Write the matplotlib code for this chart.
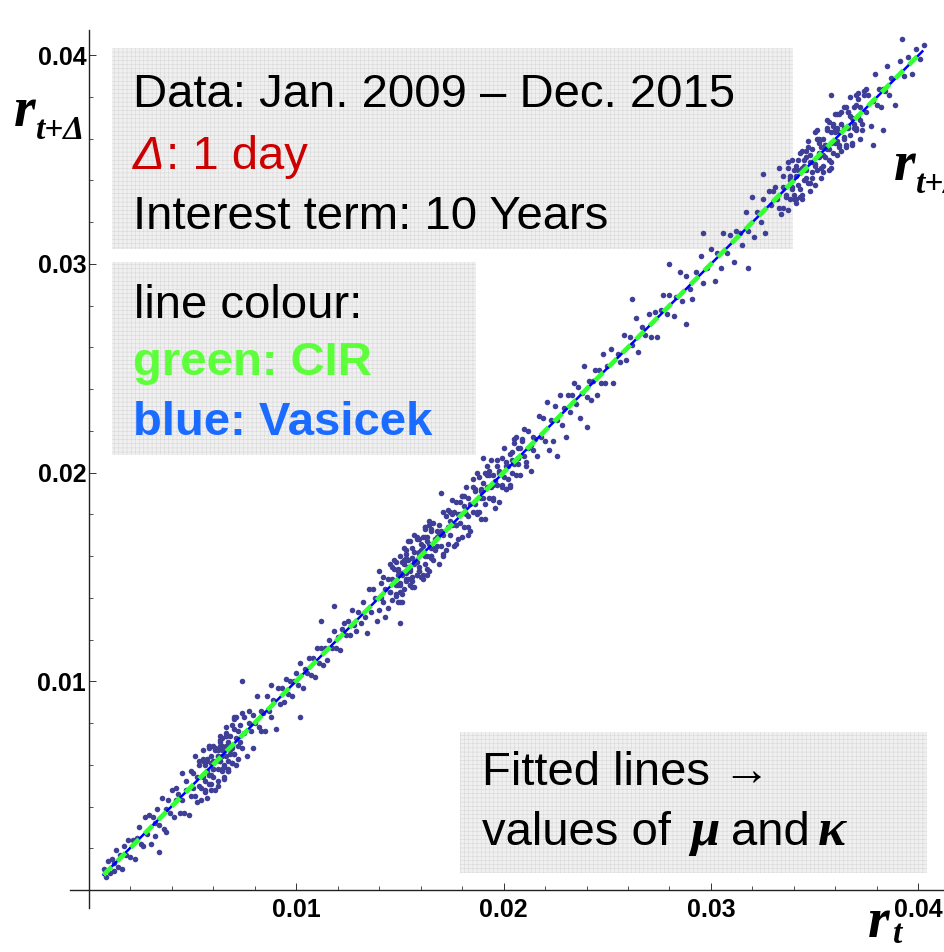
import matplotlib
matplotlib.use("Agg")
import matplotlib.pyplot as plt
import numpy as np
from matplotlib.patches import Rectangle
from matplotlib.ticker import FixedLocator

# scatter points, in basis points:
# r_t (horizontal position) and the jump r_{t+1} - r_t (vertical distance from the diagonal)
rt_bp = [
    7, 8, 9, 10, 11, 12, 12, 13, 14, 15, 16, 17, 18, 19, 20, 21, 22, 23, 24, 25,
    26, 27, 28, 29, 30, 31, 32, 32, 33, 34, 35, 36, 37, 37, 38, 39, 40, 41, 42, 42,
    43, 44, 45, 45, 46, 47, 47, 48, 49, 49, 50, 50, 51, 51, 52, 52, 53, 53, 53, 54,
    54, 55, 55, 55, 56, 56, 57, 57, 57, 58, 58, 58, 59, 59, 59, 60, 60, 60, 61, 61,
    61, 62, 62, 62, 63, 63, 63, 64, 64, 64, 65, 65, 65, 66, 66, 66, 67, 67, 67, 68,
    68, 68, 69, 69, 69, 70, 70, 70, 71, 71, 72, 72, 73, 73, 74, 74, 75, 75, 76, 77,
    77, 78, 79, 79, 80, 81, 82, 83, 83, 84, 85, 86, 87, 88, 88, 89, 90, 91, 92, 93,
    94, 95, 96, 97, 98, 99, 100, 101, 102, 103, 104, 105, 106, 107, 108, 109, 110, 111, 112, 113,
    114, 115, 116, 117, 118, 119, 120, 121, 122, 123, 124, 125, 126, 127, 128, 129, 130, 131, 132, 133,
    134, 135, 136, 137, 138, 139, 140, 140, 141, 141, 142, 142, 143, 143, 144, 144, 145, 145, 146, 146,
    147, 147, 148, 148, 148, 149, 149, 149, 150, 150, 150, 151, 151, 151, 152, 152, 152, 153, 153, 153,
    154, 154, 154, 155, 155, 155, 156, 156, 156, 157, 157, 157, 158, 158, 158, 159, 159, 159, 160, 160,
    160, 161, 161, 161, 162, 162, 162, 163, 163, 163, 164, 164, 164, 165, 165, 165, 166, 166, 167, 167,
    168, 168, 169, 169, 170, 170, 171, 171, 172, 172, 173, 173, 174, 174, 175, 175, 176, 176, 177, 177,
    178, 178, 179, 179, 180, 180, 181, 181, 182, 182, 183, 183, 184, 184, 185, 185, 186, 186, 187, 187,
    188, 188, 189, 189, 190, 190, 191, 191, 192, 192, 193, 193, 194, 194, 195, 195, 196, 196, 197, 197,
    198, 198, 199, 199, 200, 200, 201, 201, 202, 202, 203, 203, 204, 204, 205, 205, 206, 206, 207, 207,
    208, 208, 209, 210, 210, 211, 212, 212, 213, 214, 214, 215, 216, 217, 218, 219, 220, 221, 222, 223,
    224, 225, 226, 227, 228, 229, 230, 231, 232, 233, 234, 235, 236, 237, 238, 239, 240, 241, 242, 243,
    244, 245, 246, 247, 248, 249, 250, 252, 253, 255, 256, 258, 259, 261, 262, 264, 265, 267, 268, 270,
    271, 273, 274, 276, 277, 279, 280, 282, 283, 285, 286, 288, 290, 291, 293, 295, 296, 298, 300, 302,
    303, 305, 306, 308, 309, 311, 312, 314, 315, 317, 318, 320, 321, 322, 324, 325, 326, 328, 329, 330,
    331, 332, 333, 333, 334, 335, 335, 336, 337, 337, 338, 338, 339, 339, 340, 340, 341, 341, 342, 342,
    343, 343, 344, 344, 345, 345, 346, 346, 347, 347, 348, 348, 349, 349, 350, 350, 351, 351, 352, 352,
    353, 353, 354, 354, 355, 355, 356, 356, 357, 357, 358, 358, 359, 359, 360, 360, 361, 361, 362, 362,
    363, 363, 364, 364, 365, 365, 366, 366, 367, 367, 368, 368, 369, 369, 370, 370, 371, 371, 372, 372,
    373, 374, 375, 375, 376, 377, 378, 379, 380, 381, 382, 383, 384, 385, 386, 387, 389, 391, 393, 395,
    397, 399, 401, 403,
    55, 56, 58, 59, 60, 61, 62, 63, 64, 65, 66, 67, 68, 69, 70, 71, 72, 63, 65, 67,
    145, 146, 148, 149, 150, 151, 152, 153, 154, 155, 156, 157, 158, 159, 160, 161, 162, 163, 164, 165,
    175, 177, 179, 181, 183, 185, 187, 189, 191, 193, 195, 197, 199, 201, 203, 205, 207, 209, 211, 213,
    340, 342, 344, 346, 348, 350, 352, 354, 356, 358, 360, 362, 364, 366, 368, 370, 372, 374, 336, 338,
    74, 34, 102, 118, 150, 170, 190, 226, 262, 288, 296, 318, 325, 358, 378, 383, 392, 112, 240, 280,
    335, 337, 339, 341, 343, 345, 347, 349, 351, 353, 355, 357, 359, 361, 363, 365, 367, 369, 371, 373,
    346, 348, 350, 352, 354, 356, 358, 360, 362, 364, 344, 352, 357, 361, 349, 355, 366, 341, 338, 370,
    150, 153, 156, 159, 162, 165, 168, 171, 174, 177, 180, 183, 186, 189, 192, 195, 198, 201, 204, 207,
    147, 149, 151, 153, 155, 157, 159, 161, 163, 165, 167, 169, 171, 173, 158, 162, 166, 152, 156, 160,
    56, 57, 58, 60, 61, 62, 64, 65, 66, 68, 69, 70, 59, 63, 67, 62, 64, 66, 60, 58,
]
jump_bp = [
    3, -2, 5, -2, 4, -3, 1, 6, -3, 2, -6, 4, -1, 5, -4, 3, -7, 2, 6, -3,
    -5, 8, -1, 7, -8, 4, -6, 0, 6, -3, 9, -7, 2, -9, 5, -2, 8, -6, 1, 7,
    3, -7, 11, -2, -9, 5, 1, -12, 8, -4, 6, -1, 13, -6, -10, 2, 7, -3, 9, -11,
    -5, 8, -1, 12, -8, 4, -13, 0, 6, -3, 10, -7, 2, -11, 5, -2, 9, -6, 1, 7,
    6, -10, 2, -4, 9, -1, 11, -7, 0, 5, -12, 3, -6, 8, -2, 12, -9, 4, -5, 1,
    -3, 1, -8, 10, -1, 7, -5, 13, -11, 2, 4, -9, 6, -2, 11, -6, 0, 8, -12, 3,
    9, -2, 5, -11, 0, 12, -4, 3, -7, 1, -9, 7, -1, 10, -5, 2, -13, 6, -3, 4,
    -4, 6, -2, 3, -5, 1, 4, -3, 7, -6, 2, -1, 5, -4, 3, -7, 6, -2, 4, -5,
    2, -5, 4, -1, 6, -3, 1, -6, 3, 5, -2, 4, -4, 7, -1, -5, 3, -3, 6, -2,
    -11, 9, -3, 7, 2, -10, -6, 13, -1, 6, -4, 8, -12, 1, 5, -9, -2, 11, -7, 3,
    7, 1, -6, 9, -2, 5, -11, 2, -7, 10, -3, 6, 0, -13, 4, -8, 12, -1, 8, -5,
    1, -5, 4, -9, 12, -2, 8, -6, 3, -12, 5, 0, -7, 11, -1, 9, -4, 2, -10, 6,
    3, -12, 8, 0, -6, 11, -2, 6, -9, 4, 2, -11, 13, -5, 7, -1, 10, -8, 1, -3,
    4, -3, 6, -13, 2, -5, 10, -1, 7, -9, 1, -7, 3, -4, 12, 0, -11, 5, -2, 9,
    -10, 2, 7, -3, 9, -11, 3, -7, 11, -2, -9, 5, 1, -12, 8, -4, 6, -1, 13, -6,
    10, -7, 2, -11, 5, -2, 9, -6, 1, 7, -5, 8, -1, 12, -8, 4, -13, 0, 6, -3,
    -12, 3, -6, 8, -2, 12, -9, 4, -5, 1, 6, -10, 2, -4, 9, -1, 11, -7, 0, 5,
    4, -9, 6, -2, 11, -6, 0, 8, -12, 3, -3, 1, -8, 10, -1, 7, -5, 13, -11, 2,
    -9, 7, -1, 10, -5, 2, -13, 6, -3, 4, 9, -2, 5, -11, 0, 12, -4, 3, -7, 1,
    5, -8, 3, -4, 9, -6, 1, 7, -10, 2, -3, 8, -5, 4, -1, 10, -7, 3, -2, 6,
    -6, 4, -9, 2, 8, -3, 5, -7, 1, 11, -4, 6, -2, -8, 3, 9, -5, 0, 7, -10,
    2, -7, 9, -3, 5, -10, 4, 1, -6, 8, -2, 12, -8, 3, -4, 6, -11, 7, -1, 5,
    6, -1, 13, -6, -10, 2, 7, -3, 9, -11, 3, -7, 11, -2, -9, 5, 1, -12, 8, -4,
    10, -7, 2, -11, 5, -5, 8, -1, 12, -8, 4, -13, 0, 6, -3, -2, 9, -6, 1, 7,
    -12, 3, 6, -10, 2, -4, 9, -1, 11, -7, 0, 5, -6, 8, -2, 12, -9, 4, -5, 1,
    4, -9, -3, 1, -8, 10, -1, 7, -5, 13, -11, 2, 6, -2, 11, -6, 0, 8, -12, 3,
    -9, 7, 9, -2, 5, -11, 0, 12, -4, 3, -7, 1, -1, 10, -5, 2, -13, 6, -3, 4,
    -6, 4, -3, 2,
    7, -4, 11, -8, 2, -13, 5, -1, 9, -6, 3, -10, 6, 0, -5, 12, -3, 8, -11, 1,
    -2, 9, -7, 4, -12, 1, 6, -4, 13, -9, 3, -1, 10, -6, 2, -10, 7, -3, 11, -5,
    5, -11, 1, 8, -4, 12, -7, 3, -13, 6, -1, 9, -5, 2, -9, 11, -3, 7, -8, 0,
    -7, 3, 10, -5, 1, -12, 8, -2, 13, -9, 4, -6, 11, 0, -10, 6, -3, 9, -4, 2,
    26, -16, -19, 18, -22, 20, 17, -18, 21, -17, 19, -20, 18, 23, -21, -19, 16, 17, -18, 20,
    -8, 12, -3, 6, -11, 2, 9, -5, 13, -7, 1, -12, 7, -2, 10, -9, 4, -4, 11, -6,
    5, -9, 13, -1, -7, 8, -12, 3, 10, -4, -13, 6, -2, 11, -8, 2, 7, -10, 4, -5,
    -4, 10, -8, 3, 12, -6, 1, -11, 7, -2, 9, -13, 5, -1, 11, -7, 2, -9, 6, 0,
    11, -3, -9, 6, -1, 13, -6, 4, -12, 8, -4, 2, -10, 9, -7, 12, -2, 5, -11, 1,
    -9, 5, 11, -2, 7, -12, 3, -5, 9, -1, -8, 12, -4, 6, -10, 2, -6, 8, 1, -3,
]

# fitted lines r_{t+1} = a + b r_t
cir_a, cir_b = 0.00002, 0.9992
vas_a, vas_b = 0.00003, 0.9988
fit_range = [0.0007, 0.0402]

major_ticks = [0.01, 0.02, 0.03, 0.04]
tick_labels = ["0.01", "0.02", "0.03", "0.04"]
minor_ticks = [0.002, 0.004, 0.006, 0.008, 0.012, 0.014, 0.016, 0.018, 0.022, 0.024,
               0.026, 0.028, 0.032, 0.034, 0.036, 0.038]

n = min(len(rt_bp), len(jump_bp))
r_t = np.array(rt_bp[:n]) / 10000.0
r_next = r_t + np.array(jump_bp[:n]) / 10000.0

W, H = 945, 952
fig = plt.figure(figsize=(W / 100, H / 100), dpi=100)
ax = fig.add_axes([0, 0, 1, 1])
ax.patch.set_alpha(0)

x0px, xscale = 89, 20730.0
y0px, yscale = 890, 20870.0
ax.set_xlim(-x0px / xscale, (W - x0px) / xscale)
ax.set_ylim(-(H - y0px) / yscale, y0px / yscale)

# axes through the origin
for s in ["top", "right"]:
    ax.spines[s].set_visible(False)
ax.spines["left"].set_position(("data", 0))
ax.spines["bottom"].set_position(("data", 0))
ax.spines["left"].set_bounds(-0.00086, 0.0412)
ax.spines["bottom"].set_bounds(-0.0009, 0.0415)
for s in ["left", "bottom"]:
    ax.spines[s].set_linewidth(1.0)
    ax.spines[s].set_color("#222222")

ax.xaxis.set_major_locator(FixedLocator(major_ticks))
ax.yaxis.set_major_locator(FixedLocator(major_ticks))
ax.set_xticklabels(tick_labels)
ax.set_yticklabels(tick_labels)
ax.xaxis.set_minor_locator(FixedLocator(minor_ticks))
ax.yaxis.set_minor_locator(FixedLocator(minor_ticks))
ax.tick_params(which="major", direction="in", length=5, width=0.7, color="#333333")
ax.tick_params(which="minor", direction="in", length=3, width=0.6, color="#333333")
ax.tick_params(axis="x", which="major", pad=6)
ax.tick_params(axis="y", which="major", pad=2)
for lab in ax.get_xticklabels() + ax.get_yticklabels():
    lab.set_fontfamily("Liberation Sans")
    lab.set_fontweight("bold")
    lab.set_fontsize(18)

def fx(px):
    return px / W

def fy(py):
    return 1 - py / H

# grey boxes behind the data
boxes = [(112, 48, 793, 249), (112, 262, 476, 455), (460, 732, 927, 873)]
plt.rcParams["hatch.linewidth"] = 0.4
for (l, t, rr, b) in boxes:
    ax.add_patch(Rectangle((fx(l), fy(b)), (rr - l) / W, (b - t) / H, transform=ax.transAxes,
                           facecolor="#f0f0f0", edgecolor="#d8d8d8", hatch="++++", lw=0, zorder=0))

ax.scatter(r_t, r_next, s=16, color="#3f3f98", linewidths=0, zorder=2)

xs = np.array(fit_range)
ax.plot(xs, vas_a + vas_b * xs, color="#0000ff", lw=1.8, zorder=3)
ax.plot(xs, cir_a + cir_b * xs, color="#33ff33", lw=3.4, dashes=(2.5, 1.6), zorder=4)

sans = "Liberation Sans"
serif = "Liberation Serif"
fs = 34

def txt(px, py, s, **kw):
    kw.setdefault("family", sans)
    kw.setdefault("fontsize", fs)
    ax.text(fx(px), fy(py), s, transform=ax.transAxes, ha="left", va="baseline", zorder=5, **kw)

txt(133, 107, "Data: Jan. 2009 \u2013 Dec. 2015")
txt(133, 169, "\u0394", color="#cc0000", style="italic")
txt(166, 169, ": 1 day", color="#cc0000")
txt(133, 229, "Interest term: 10 Years")
txt(134, 318, "line colour:")
txt(133, 375, "green: CIR", color="#5cff3a", weight="bold")
txt(133, 435, "blue: Vasicek", color="#1a6bff", weight="bold")
txt(482, 785, "Fitted lines \u2192")
txt(482, 845, "values of")
txt(690, 845, "\u03bc", family=serif, style="italic", weight="bold", fontsize=38)
txt(731, 845, "and")
txt(818, 845, "\u03ba", family=serif, style="italic", weight="bold", fontsize=38)

# axis names; the right one runs off the edge as in the original
txt(14, 126, "r", family=serif, style="italic", weight="bold", fontsize=40)
txt(36, 139, "t+\u0394", family=serif, style="italic", weight="bold", fontsize=24)
txt(894, 180, "r", family=serif, style="italic", weight="bold", fontsize=40)
txt(916, 193, "t+\u0394", family=serif, style="italic", weight="bold", fontsize=24)
txt(868, 937, "r", family=serif, style="italic", weight="bold", fontsize=40)
txt(893, 943, "t", family=serif, style="italic", weight="bold", fontsize=24)

fig.savefig("out.png", dpi=100)
